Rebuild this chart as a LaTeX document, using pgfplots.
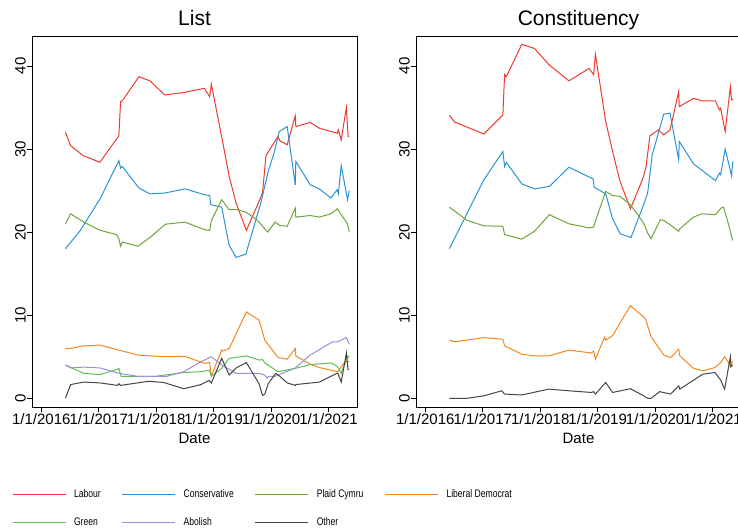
\documentclass[border=0pt]{standalone}
\usepackage{pgfplots}
\pgfplotsset{compat=1.18}
\usepackage{pgfplotstable}
\usepackage{fontspec}
\setmainfont{Liberation Sans}
\newfontfamily\narrowfont[FakeStretch=0.78]{Liberation Sans}

\definecolor{labour}{HTML}{EE3A2C}
\definecolor{cons}{HTML}{2A93D5}
\definecolor{plaid}{HTML}{6BA53B}
\definecolor{libdem}{HTML}{F7861E}
\definecolor{greenp}{HTML}{5CBF56}
\definecolor{abolish}{HTML}{9A8FD3}
\definecolor{other}{HTML}{454545}

% ---------- List vote ----------
\pgfplotstableread{
x y
2016.42 32.0
2016.51 30.4
2016.73 29.2
2017.02 28.4
2017.35 31.6
2017.38 35.7
2017.41 35.8
2017.70 38.7
2017.89 38.2
2018.15 36.5
2018.48 36.8
2018.84 37.3
2018.93 36.3
2018.96 37.8
2019.15 31.1
2019.27 26.7
2019.39 23.5
2019.57 20.2
2019.79 23.7
2019.85 24.7
2019.91 29.2
2020.12 31.5
2020.15 31.0
2020.28 30.5
2020.42 34.0
2020.43 32.7
2020.68 33.2
2020.84 32.5
2021.15 31.9
2021.17 32.3
2021.22 31.1
2021.31 35.0
2021.34 31.5
2021.36 31.5
}\listLab
\pgfplotstableread{
x y
2016.42 18.0
2016.68 20.2
2017.03 24.1
2017.35 28.6
2017.38 27.7
2017.41 27.9
2017.70 25.3
2017.89 24.6
2018.15 24.7
2018.50 25.2
2018.84 24.5
2018.93 24.4
2018.95 23.3
2019.14 23.0
2019.27 18.4
2019.39 16.95
2019.56 17.35
2019.82 23.5
2019.95 27.3
2020.05 29.5
2020.14 32.1
2020.28 32.7
2020.42 25.7
2020.43 28.5
2020.68 25.7
2020.84 25.2
2021.04 24.1
2021.15 25.1
2021.17 24.6
2021.22 28.0
2021.33 23.9
2021.36 25.0
}\listCon
\pgfplotstableread{
x y
2016.42 21.0
2016.51 22.2
2016.74 21.2
2017.03 20.2
2017.31 19.7
2017.35 19.2
2017.38 18.3
2017.41 18.8
2017.68 18.3
2017.90 19.4
2018.16 20.95
2018.50 21.2
2018.84 20.3
2018.93 20.2
2018.96 21.4
2019.14 23.9
2019.27 22.7
2019.41 22.7
2019.56 22.4
2019.73 21.6
2019.79 21.2
2019.94 20.0
2020.07 21.2
2020.15 20.8
2020.28 20.7
2020.42 22.9
2020.43 21.8
2020.68 22.0
2020.84 21.8
2021.04 22.2
2021.15 22.8
2021.31 21.2
2021.33 21.0
2021.36 20.0
}\listPC
\pgfplotstableread{
x y
2016.42 6.0
2016.51 6.0
2016.73 6.3
2017.02 6.4
2017.35 5.8
2017.41 5.7
2017.68 5.2
2018.16 5.0
2018.50 5.05
2018.84 4.2
2018.93 4.3
2018.96 2.7
2019.14 5.8
2019.16 5.7
2019.27 6.0
2019.57 10.4
2019.79 9.4
2019.89 7.0
2020.12 4.9
2020.28 4.7
2020.42 6.0
2020.43 5.1
2020.68 4.1
2020.84 3.7
2021.16 3.2
2021.22 3.8
2021.29 4.4
2021.36 4.4
}\listLD
\pgfplotstableread{
x y
2016.42 4.0
2016.74 3.0
2017.02 2.85
2017.33 3.5
2017.35 3.6
2017.39 2.65
2017.99 2.65
2018.48 3.1
2018.78 3.2
2018.92 3.4
2018.96 2.65
2019.14 3.6
2019.27 4.8
2019.57 5.1
2019.79 4.6
2019.85 4.65
2019.89 4.25
2020.12 3.2
2020.42 3.6
2020.68 4.05
2021.04 4.25
2021.16 3.8
2021.22 3.0
2021.29 4.25
2021.33 5.1
2021.36 4.9
}\listGr
\pgfplotstableread{
x y
2016.42 4.0
2016.51 3.65
2016.74 3.75
2017.02 3.65
2017.35 3.0
2017.67 2.65
2018.19 2.65
2018.48 3.2
2018.78 4.4
2018.96 5.0
2019.14 4.0
2019.39 3.0
2019.79 3.0
2019.89 2.8
2019.93 2.4
2019.95 2.65
2020.07 2.65
2020.42 3.65
2020.68 5.2
2021.07 6.8
2021.16 6.8
2021.31 7.3
2021.36 6.5
}\listAb
\pgfplotstableread{
x y
2016.42 0.0
2016.51 1.65
2016.74 1.95
2017.02 1.85
2017.33 1.55
2017.35 1.75
2017.38 1.55
2017.87 2.05
2018.13 1.9
2018.48 1.15
2018.78 1.65
2018.92 2.15
2018.96 1.85
2019.14 4.8
2019.27 2.8
2019.39 3.65
2019.57 4.3
2019.79 1.75
2019.85 0.35
2019.89 0.5
2019.95 1.75
2020.08 3.0
2020.15 2.65
2020.28 1.85
2020.42 1.55
2020.43 1.65
2020.84 1.95
2021.16 3.05
2021.22 1.95
2021.31 5.45
2021.34 3.45
2021.36 3.45
}\listOt

% ---------- Constituency vote ----------
\pgfplotstableread{
x y
2016.42 34.05
2016.51 33.25
2017.02 31.8
2017.35 34.1
2017.38 38.95
2017.41 38.7
2017.68 42.6
2017.90 42.1
2018.16 40.1
2018.50 38.2
2018.85 39.7
2018.93 38.95
2018.96 41.4
2019.14 33.3
2019.26 29.7
2019.39 26.1
2019.57 22.8
2019.79 26.5
2019.84 27.8
2019.91 31.6
2020.06 32.3
2020.15 31.7
2020.26 32.3
2020.41 36.9
2020.42 35.1
2020.67 36.1
2020.81 35.8
2021.05 35.8
2021.12 34.7
2021.14 34.9
2021.22 32.1
2021.31 37.5
2021.33 35.9
2021.36 36.0
}\conLab
\pgfplotstableread{
x y
2016.42 18.0
2017.02 26.3
2017.35 29.7
2017.38 27.9
2017.41 28.4
2017.68 25.8
2017.90 25.2
2018.16 25.5
2018.50 27.8
2018.92 26.4
2018.94 25.4
2019.14 24.6
2019.26 21.6
2019.39 19.8
2019.58 19.35
2019.80 23.3
2019.87 24.7
2019.95 29.3
2020.15 34.2
2020.26 34.3
2020.41 28.7
2020.42 30.9
2020.67 28.2
2021.05 26.2
2021.12 27.1
2021.14 26.9
2021.22 30.0
2021.33 26.8
2021.35 28.5
}\conCon
\pgfplotstableread{
x y
2016.42 23.0
2016.73 21.4
2017.02 20.75
2017.35 20.7
2017.38 19.7
2017.68 19.15
2017.90 20.1
2018.16 22.1
2018.50 21.0
2018.85 20.5
2018.93 20.6
2018.96 21.3
2019.14 24.9
2019.26 24.4
2019.39 24.3
2019.57 23.3
2019.80 21.1
2019.87 19.9
2019.93 19.2
2020.09 21.5
2020.15 21.4
2020.26 20.9
2020.41 20.1
2020.43 20.4
2020.67 21.8
2020.81 22.2
2021.05 22.1
2021.15 22.9
2021.19 23.0
2021.28 20.9
2021.35 19.0
}\conPC
\pgfplotstableread{
x y
2016.42 7.0
2016.51 6.8
2017.02 7.3
2017.35 7.1
2017.38 6.3
2017.68 5.3
2017.91 5.1
2018.15 5.1
2018.50 5.8
2018.89 5.45
2018.93 5.7
2018.96 4.7
2019.12 7.35
2019.14 7.0
2019.26 7.55
2019.57 11.15
2019.83 9.6
2019.93 7.4
2020.15 5.2
2020.27 4.9
2020.41 5.9
2020.43 5.1
2020.67 3.6
2020.83 3.3
2021.04 3.7
2021.14 4.3
2021.21 5.0
2021.27 4.4
2021.31 3.8
2021.35 4.5
}\conLD
\pgfplotstableread{
x y
2016.42 0.0
2016.73 0.0
2017.02 0.3
2017.33 0.9
2017.38 0.5
2017.68 0.4
2018.15 1.1
2018.50 0.9
2018.89 0.7
2018.93 0.8
2018.96 0.5
2019.14 1.9
2019.26 0.7
2019.57 1.15
2019.80 0.3
2019.87 0.0
2019.93 0.0
2020.08 0.8
2020.27 0.5
2020.41 1.5
2020.43 1.1
2020.83 2.9
2021.04 3.1
2021.14 2.2
2021.21 1.1
2021.31 5.0
2021.32 3.8
2021.35 4.0
}\conOt

\pgfplotsset{
  panel/.style={
    width=325pt, height=371pt, scale only axis,
    xmin=2015.838, xmax=2021.495, ymin=-1.05, ymax=43.6,
    xtick={2016,2017,2018,2019,2020,2021},
    xticklabels={1/1/2016,1/1/2017,1/1/2018,1/1/2019,1/1/2020,1/1/2021},
    ytick={0,10,20,30,40},
    tick align=outside, tick pos=left,
    major tick length=5pt,
    tick style={black, line width=0.8pt},
    axis line style={line width=0.8pt},
    /pgf/number format/assume math mode=true,
    yticklabel style={rotate=90, anchor=south, inner sep=1pt, font=\fontsize{15}{15}\selectfont},
    xticklabel style={inner sep=1pt, font=\fontsize{15}{15}\selectfont},
    xlabel={Date},
    xlabel style={at={(axis description cs:0.5,0)}, anchor=base, yshift=-36pt, inner sep=0pt, font=\fontsize{15}{18}\selectfont},
    title style={at={(axis description cs:0.5,1)}, anchor=base, yshift=4pt, inner sep=0pt, font=\fontsize{21}{24}\selectfont},
    every axis plot/.append style={line width=1pt, no marks},
    legend image code/.code={\draw[#1] (0pt,0pt) -- (53pt,0pt);},
  }
}

\begin{document}
\begin{tikzpicture}
\useasboundingbox (0pt,0pt) rectangle (738pt,527pt);

\begin{axis}[panel, at={(32pt,120pt)}, anchor=south west, title={List},
  legend columns=4,
  legend cell align=left,
  legend style={at={(axis description cs:-0.0615,-0.223)}, anchor=north west,
    draw=none, fill=none, inner sep=0pt, outer sep=0pt,
    font=\fontsize{11}{13}\narrowfont,
    nodes={inner sep=0pt, text height=8pt, text depth=2pt},
    cells={anchor=west},
    /tikz/every odd column/.append style={column sep=8pt},
    /tikz/every even column/.append style={column sep=21pt},
    /tikz/row sep=18pt}]
\addplot[labour] table {\listLab};
\addlegendentry{Labour}
\addplot[cons] table {\listCon};
\addlegendentry{Conservative}
\addplot[plaid] table {\listPC};
\addlegendentry{Plaid Cymru}
\addplot[libdem] table {\listLD};
\addlegendentry{Liberal Democrat}
\addplot[greenp] table {\listGr};
\addlegendentry{Green}
\addplot[abolish] table {\listAb};
\addlegendentry{Abolish}
\addplot[other] table {\listOt};
\addlegendentry{Other}
\end{axis}

\begin{axis}[panel, at={(416pt,120pt)}, anchor=south west, title={Constituency}]
\addplot[labour] table {\conLab};
\addplot[cons] table {\conCon};
\addplot[plaid] table {\conPC};
\addplot[libdem] table {\conLD};
\addplot[other] table {\conOt};
\end{axis}
\end{tikzpicture}
\end{document}
